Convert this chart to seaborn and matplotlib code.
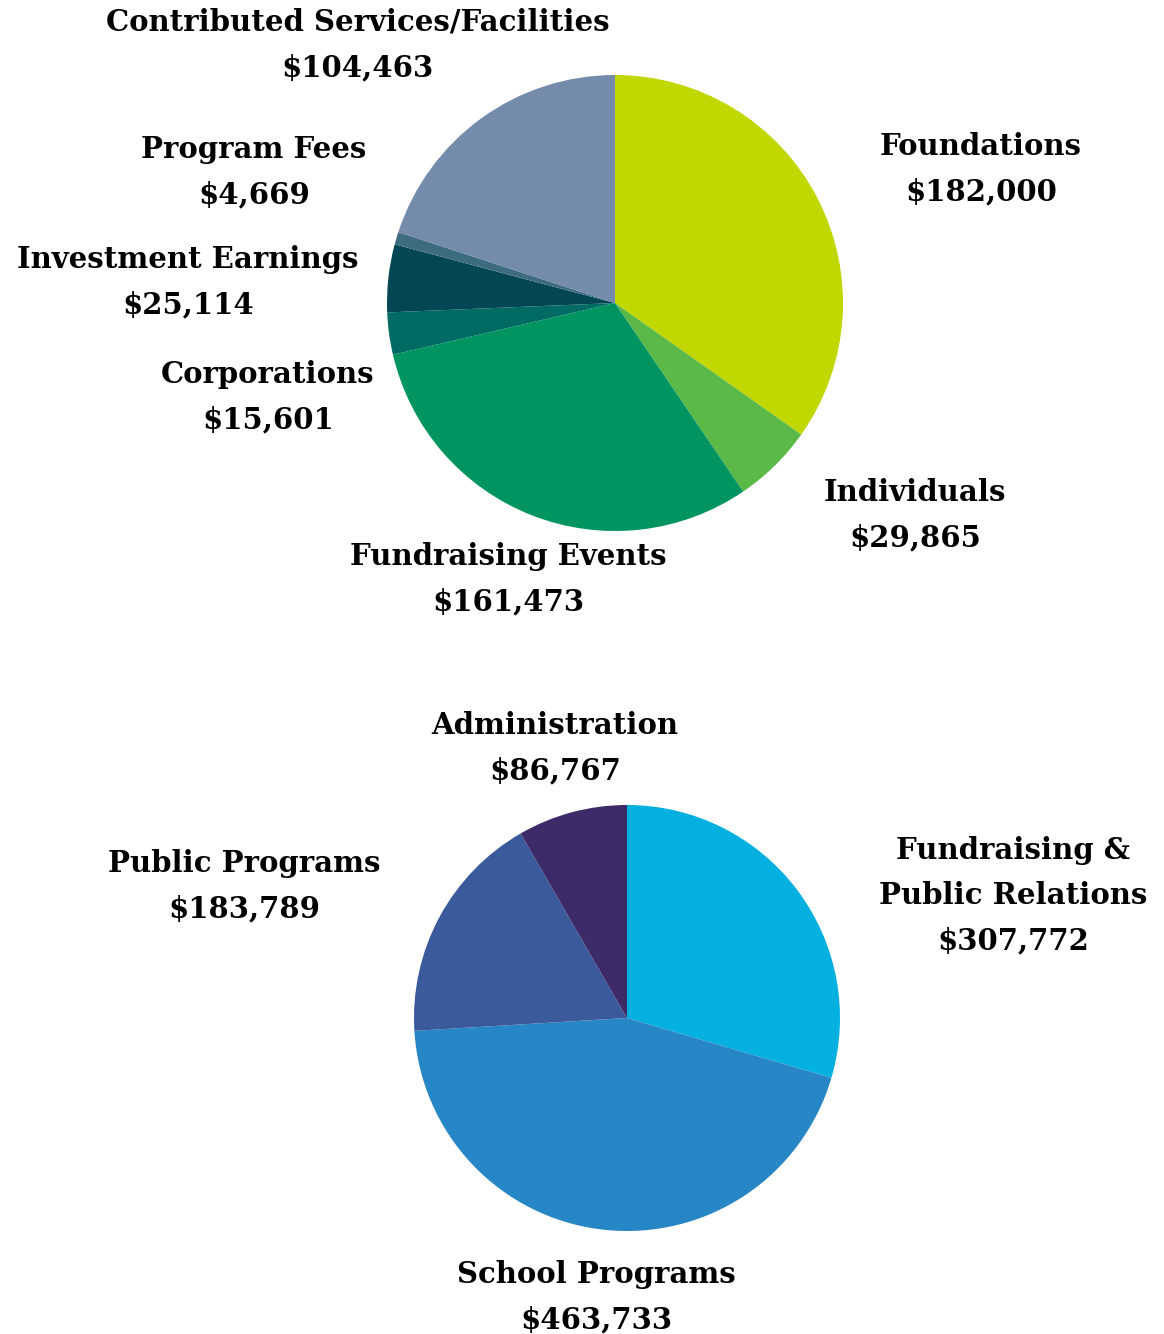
import numpy as np
import matplotlib
matplotlib.use("Agg")
import matplotlib.pyplot as plt
import seaborn as sns

# ── Revenue (top pie), clockwise from 12 o'clock ─────────────────────────
rev_labels = ["Foundations", "Individuals", "Fundraising Events", "Corporations",
              "Investment Earnings", "Program Fees", "Contributed Services/Facilities"]
rev_values = [182000, 29865, 161473, 15601, 25114, 4669, 104463]
rev_colors = ["#c1d700", "#5bb947", "#009560", "#006b63", "#034654", "#3d6c80", "#748bac"]

# ── Expenses (bottom pie) ────────────────────────────────────────────────
exp_labels = ["Fundraising &\nPublic Relations", "School Programs",
              "Public Programs", "Administration"]
exp_values = [307772, 463733, 183789, 86767]
exp_colors = ["#04b0e0", "#2786c5", "#3b5a9c", "#3d2b69"]

# label anchor positions in pixels (x, y-centre of first line)
rev_pos = [(981, 146), (915, 492), (508, 556), (268, 374), (188, 259),
           (254, 149), (358, 22)]
exp_pos = [(1013, 851), (596, 1274), (244, 863), (555, 725)]

W, H = 1164, 1334
sns.set_theme(style="white")
plt.rcParams["font.family"] = ["DejaVu Serif"]

fig = plt.figure(figsize=(W / 100, H / 100), dpi=100)


def pie_axes(cx, cy, r):
    return fig.add_axes([(cx - r) / W, 1 - (cy + r) / H, 2 * r / W, 2 * r / H])


def add_labels(labels, values, positions):
    for lab, val, (x, y) in zip(labels, values, positions):
        txt = f"{lab}\n${val:,}"
        fig.text(x / W, 1 - y / H, txt, ha="center", va="center",
                 fontsize=21, fontweight="bold", color="black",
                 linespacing=1.7)


ax1 = pie_axes(615, 303, 228)
ax1.pie(rev_values, colors=rev_colors, startangle=90, counterclock=False,
        wedgeprops=dict(linewidth=0))
ax1.set_aspect("auto")
ax1.set_xlim(-1, 1)
ax1.set_ylim(-1, 1)
ax1.axis("off")

ax2 = pie_axes(627, 1018, 213)
ax2.pie(exp_values, colors=exp_colors, startangle=90, counterclock=False,
        wedgeprops=dict(linewidth=0))
ax2.set_aspect("auto")
ax2.set_xlim(-1, 1)
ax2.set_ylim(-1, 1)
ax2.axis("off")

# text centred on the midpoint of the label block
rev_mid = [(x, y + 23) for x, y in rev_pos]
exp_mid = [(x, y + (45 if "\n" in l else 23)) for (x, y), l in zip(exp_pos, exp_labels)]
add_labels(rev_labels, rev_values, rev_mid)
add_labels(exp_labels, exp_values, exp_mid)

fig.savefig("out.png", dpi=100, facecolor="white")
